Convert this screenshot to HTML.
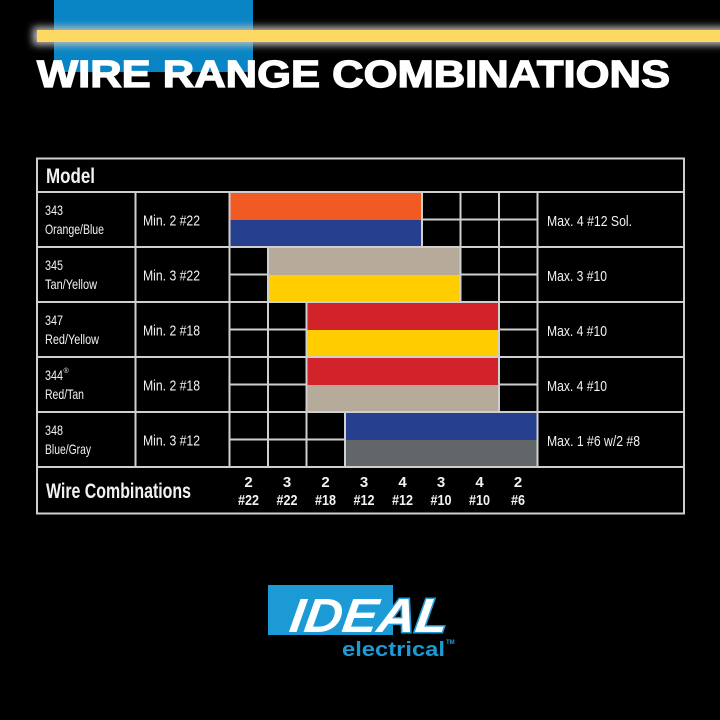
<!DOCTYPE html>
<html><head><meta charset="utf-8"><style>
html,body{margin:0;padding:0;background:#000;}
svg{display:block;}
text{font-family:"Liberation Sans",sans-serif;}
</style></head><body>
<svg width="720" height="720" viewBox="0 0 720 720" xmlns="http://www.w3.org/2000/svg">
<defs>
<filter id="glow" x="-10%" y="-200%" width="120%" height="500%"><feGaussianBlur stdDeviation="4"/></filter>
</defs>
<rect width="720" height="720" fill="#000"/>
<!-- header -->
<rect x="54" y="0" width="199" height="72" fill="#0985c5"/>
<rect x="33" y="27" width="700" height="18" fill="#c0c0c0" filter="url(#glow)"/>
<rect x="37" y="30" width="683" height="12" fill="#fdd862"/>
<text x="37" y="87" font-size="38" font-weight="bold" fill="#fff" stroke="#fff" stroke-width="1.3" textLength="633" lengthAdjust="spacingAndGlyphs">WIRE RANGE COMBINATIONS</text>

<!-- grid lines -->
<g stroke="#cfcfcf" stroke-width="2" fill="none">
<rect x="37" y="158.5" width="647" height="355"/>
<line x1="37" y1="192" x2="684" y2="192"/>
<line x1="37" y1="247" x2="684" y2="247"/>
<line x1="37" y1="302" x2="684" y2="302"/>
<line x1="37" y1="357" x2="684" y2="357"/>
<line x1="37" y1="412" x2="684" y2="412"/>
<line x1="37" y1="467" x2="684" y2="467"/>
<line x1="135.5" y1="192" x2="135.5" y2="467"/>
<line x1="229.5" y1="192" x2="229.5" y2="467"/>
<line x1="268" y1="192" x2="268" y2="467"/>
<line x1="306.5" y1="192" x2="306.5" y2="467"/>
<line x1="345" y1="192" x2="345" y2="467"/>
<line x1="383.5" y1="192" x2="383.5" y2="467"/>
<line x1="422" y1="192" x2="422" y2="467"/>
<line x1="460.5" y1="192" x2="460.5" y2="467"/>
<line x1="499" y1="192" x2="499" y2="467"/>
<line x1="537.5" y1="192" x2="537.5" y2="467"/>
<line x1="229.5" y1="219.5" x2="537.5" y2="219.5"/>
<line x1="229.5" y1="274.5" x2="537.5" y2="274.5"/>
<line x1="229.5" y1="329.5" x2="537.5" y2="329.5"/>
<line x1="229.5" y1="384.5" x2="537.5" y2="384.5"/>
<line x1="229.5" y1="439.5" x2="537.5" y2="439.5"/>
</g>

<!-- bars -->
<rect x="230.5" y="193" width="190.5" height="27" fill="#f15a22"/>
<rect x="230.5" y="220" width="190.5" height="26" fill="#263f8e"/>
<rect x="269" y="248" width="190.5" height="27" fill="#b6ab9b"/>
<rect x="269" y="275" width="190.5" height="26" fill="#ffcd00"/>
<rect x="307.5" y="303" width="190.5" height="27" fill="#d2232a"/>
<rect x="307.5" y="330" width="190.5" height="26" fill="#ffcd00"/>
<rect x="307.5" y="358" width="190.5" height="27" fill="#d2232a"/>
<rect x="307.5" y="385" width="190.5" height="26" fill="#b6ab9b"/>
<rect x="346" y="413" width="190.5" height="27" fill="#263f8e"/>
<rect x="346" y="440" width="190.5" height="26" fill="#636668"/>

<!-- text -->
<g fill="#f2f2f2">
<text x="46" y="183" font-size="21" font-weight="bold" textLength="49" lengthAdjust="spacingAndGlyphs">Model</text>
<g font-size="14">
<text x="45" y="215" textLength="18" lengthAdjust="spacingAndGlyphs">343</text>
<text x="45" y="234" textLength="59" lengthAdjust="spacingAndGlyphs">Orange/Blue</text>
<text x="45" y="270" textLength="18" lengthAdjust="spacingAndGlyphs">345</text>
<text x="45" y="289" textLength="52" lengthAdjust="spacingAndGlyphs">Tan/Yellow</text>
<text x="45" y="325" textLength="18" lengthAdjust="spacingAndGlyphs">347</text>
<text x="45" y="344" textLength="54" lengthAdjust="spacingAndGlyphs">Red/Yellow</text>
<text x="45" y="380" textLength="18" lengthAdjust="spacingAndGlyphs">344</text>
<text x="63.5" y="373" font-size="7">®</text>
<text x="45" y="399" textLength="39" lengthAdjust="spacingAndGlyphs">Red/Tan</text>
<text x="45" y="435" textLength="18" lengthAdjust="spacingAndGlyphs">348</text>
<text x="45" y="454" textLength="46" lengthAdjust="spacingAndGlyphs">Blue/Gray</text>
</g>
<g font-size="15">
<text x="143" y="225.5" textLength="57" lengthAdjust="spacingAndGlyphs">Min. 2 #22</text>
<text x="143" y="280.5" textLength="57" lengthAdjust="spacingAndGlyphs">Min. 3 #22</text>
<text x="143" y="335.5" textLength="57" lengthAdjust="spacingAndGlyphs">Min. 2 #18</text>
<text x="143" y="390.5" textLength="57" lengthAdjust="spacingAndGlyphs">Min. 2 #18</text>
<text x="143" y="445.5" textLength="57" lengthAdjust="spacingAndGlyphs">Min. 3 #12</text>
<text x="547" y="226" textLength="85" lengthAdjust="spacingAndGlyphs">Max. 4 #12 Sol.</text>
<text x="547" y="281" textLength="60" lengthAdjust="spacingAndGlyphs">Max. 3 #10</text>
<text x="547" y="336" textLength="60" lengthAdjust="spacingAndGlyphs">Max. 4 #10</text>
<text x="547" y="391" textLength="60" lengthAdjust="spacingAndGlyphs">Max. 4 #10</text>
<text x="547" y="446" textLength="93" lengthAdjust="spacingAndGlyphs">Max. 1 #6 w/2 #8</text>
</g>
<text x="46" y="498" font-size="21" font-weight="bold" textLength="145" lengthAdjust="spacingAndGlyphs">Wire Combinations</text>
<g font-size="15" font-weight="bold" text-anchor="middle">
<text x="248.5" y="487">2</text>
<text x="287" y="487">3</text>
<text x="325.5" y="487">2</text>
<text x="364" y="487">3</text>
<text x="402.5" y="487">4</text>
<text x="441" y="487">3</text>
<text x="479.5" y="487">4</text>
<text x="518" y="487">2</text>
<text x="248.5" y="505" textLength="21" lengthAdjust="spacingAndGlyphs">#22</text>
<text x="287" y="505" textLength="21" lengthAdjust="spacingAndGlyphs">#22</text>
<text x="325.5" y="505" textLength="21" lengthAdjust="spacingAndGlyphs">#18</text>
<text x="364" y="505" textLength="21" lengthAdjust="spacingAndGlyphs">#12</text>
<text x="402.5" y="505" textLength="21" lengthAdjust="spacingAndGlyphs">#12</text>
<text x="441" y="505" textLength="21" lengthAdjust="spacingAndGlyphs">#10</text>
<text x="479.5" y="505" textLength="21" lengthAdjust="spacingAndGlyphs">#10</text>
<text x="518" y="505" textLength="14" lengthAdjust="spacingAndGlyphs">#6</text>
</g>
</g>

<!-- logo -->
<rect x="268" y="585" width="125" height="50" fill="#1b9ad6"/>
<g transform="translate(0,632) skewX(-8) translate(0,-632)">
<text x="288" y="632" font-size="48" font-weight="bold" font-style="italic" fill="#fff" stroke="#1b9ad6" stroke-width="3" paint-order="stroke" textLength="158" lengthAdjust="spacingAndGlyphs">IDEAL</text>
</g>
<text x="342" y="656" font-size="20" font-weight="bold" fill="#1b9ad6" textLength="103" lengthAdjust="spacingAndGlyphs">electrical</text>
<text x="446" y="644" font-size="6" font-weight="bold" fill="#1b9ad6">TM</text>
</svg>
</body></html>
